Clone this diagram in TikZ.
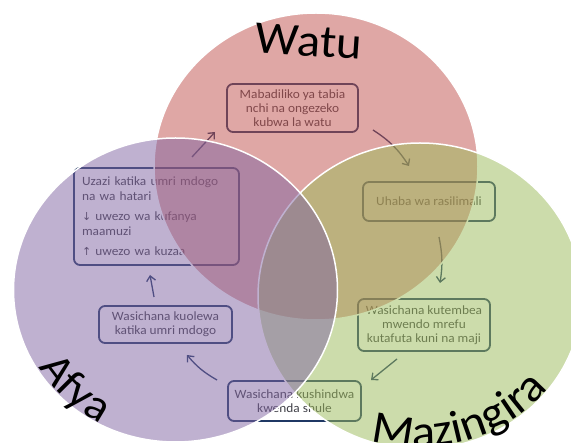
\documentclass[tikz,border=0pt]{standalone}
\usepackage{fontspec}
\setmainfont{Carlito}[FakeStretch=1.06]
\newfontfamily\dejavu{DejaVu Sans}
\usetikzlibrary{arrows.meta,decorations.text}
\definecolor{pinkc}{HTML}{C0504D}
\definecolor{purplec}{HTML}{8064A2}
\definecolor{greenc}{HTML}{9BBB59}
\definecolor{boxline}{RGB}{31,56,100}
\definecolor{boxtext}{RGB}{64,64,72}
\begin{document}
\begin{tikzpicture}[x=1pt,y=1pt,
  stepbox/.style={draw=boxline, line width=1.8pt, rounded corners=6pt, text=boxtext,
    align=center, font=\fontsize{12.6}{14}\selectfont, inner sep=0pt},
  flow/.style={draw=boxline, line width=1.3pt, -{Straight Barb[length=5pt,width=9pt]}},
  venn/.style={fill opacity=0.5, draw=white, line width=1.5pt},
  biglabel/.style={font=\fontsize{46}{46}\selectfont, text=black}
]
\fill[white] (0,0) rectangle (571,-443);
\useasboundingbox (0,0) rectangle (571,-443);
\clip (0,0) rectangle (571,-443);

% boxes (beneath the circles)
\node[stepbox, minimum width=131pt, minimum height=48pt] (b1) at (292.5,-108)
  {Mabadiliko ya tabia\\ nchi na ongezeko\\ kubwa la watu};
\node[stepbox, minimum width=165pt, minimum height=97pt, text width=149pt, align=left,
  font=\fontsize{12.6}{15}\selectfont] (b2) at (156.5,-216.5)
  {Uzazi katika umri mdogo\\ na wa hatari\\[5pt] {\dejavu\fontsize{11}{15}\selectfont ↓} uwezo wa kufanya\\ maamuzi\\[5pt] {\dejavu\fontsize{11}{15}\selectfont ↑} uwezo wa kuzaa};
\node[stepbox, minimum width=132pt, minimum height=39pt] (b3) at (429,-201.5)
  {Uhaba wa rasilimali};
\node[stepbox, minimum width=132pt, minimum height=52pt] (b4) at (424,-325)
  {Wasichana kutembea\\ mwendo mrefu\\ kutafuta kuni na maji};
\node[stepbox, minimum width=133pt, minimum height=40pt] (b5) at (294.5,-401)
  {Wasichana kushindwa\\ kwenda shule};
\node[stepbox, minimum width=133pt, minimum height=37pt] (b6) at (165.5,-324.5)
  {Wasichana kuolewa\\ katika umri mdogo};

% arrow end points
\coordinate (a1s) at (192,-157); \coordinate (a1e) at (215,-132);
\coordinate (a2s) at (373,-130); \coordinate (a2e) at (409,-166);
\coordinate (a3s) at (439,-237); \coordinate (a3e) at (440,-283);
\coordinate (a4s) at (397,-359); \coordinate (a4e) at (371,-380);
\coordinate (a5s) at (217,-380); \coordinate (a5e) at (187,-355);
\coordinate (a6s) at (154,-297); \coordinate (a6e) at (150,-275);
\draw[flow] (a1s) -- (a1e);
\draw[flow] (a2s) to[bend left=12] (a2e);
\draw[flow] (a3s) to[bend left=10] (a3e);
\draw[flow] (a4s) -- (a4e);
\draw[flow] (a5s) to[bend left=10] (a5e);
\draw[flow] (a6s) -- (a6e);

% circles
\path[venn, fill=pinkc] (316,-166.5) ellipse[x radius=162, y radius=153.5];
\path[venn, fill=greenc] (420,-296) ellipse[x radius=162, y radius=153];
\path[venn, fill=purplec] (175.5,-290) ellipse[x radius=162, y radius=152];

% labels
\node[biglabel, anchor=base, rotate=-4] (watu) at (308,-56) {Watu};
\path[decorate, decoration={text along path, text align=center,
  text={|\fontsize{44}{44}\selectfont|Afya}}]
  ([shift={(175.5,-290)}]196:159 and 151) arc[start angle=196, end angle=256, x radius=159, y radius=151];
\path[decorate, decoration={text along path, text align=center,
  text={|\fontsize{46}{46}\selectfont|Mazingira}}]
  ([shift={(420,-296)}]-132:162 and 151) arc[start angle=-132, end angle=-12, x radius=162, y radius=151];
\end{tikzpicture}
\end{document}
